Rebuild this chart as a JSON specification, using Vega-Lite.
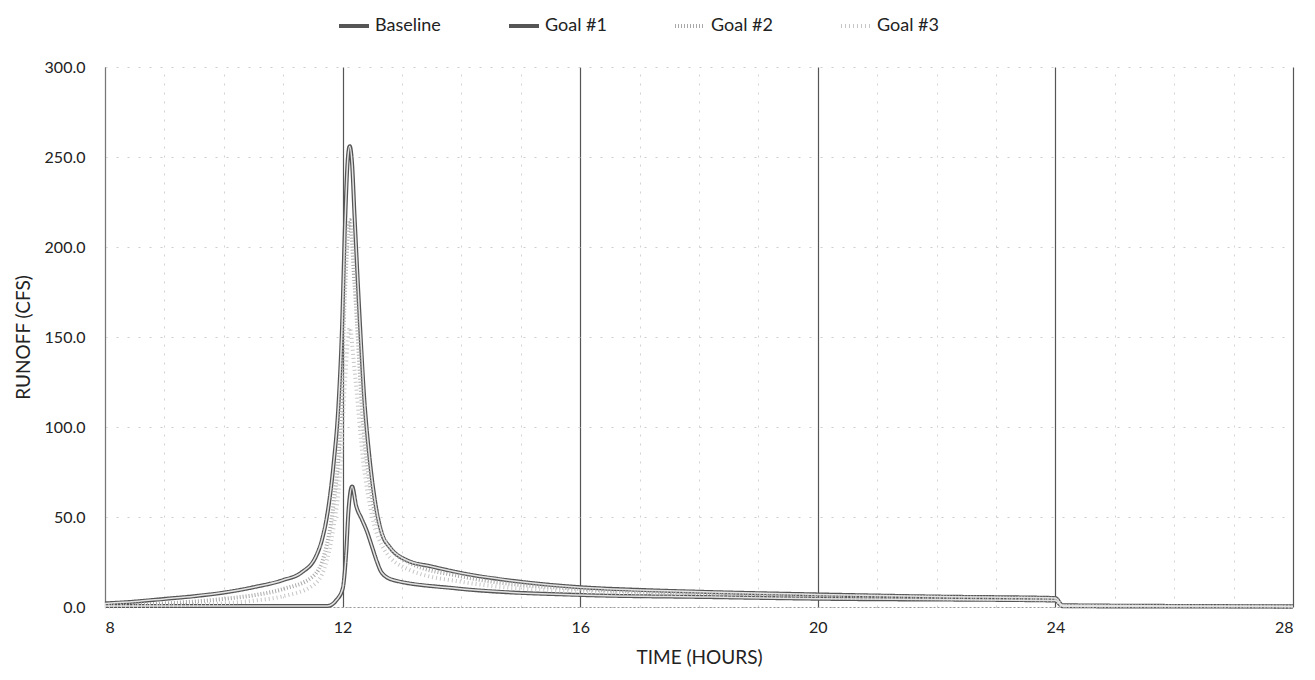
{
  "$schema": "https://vega.github.io/schema/vega-lite/v6.json",
  "width": 1188,
  "height": 540,
  "autosize": {"type": "none"},
  "padding": {"left": 105, "top": 67, "right": 22, "bottom": 73},
  "background": "white",
  "config": {
    "font": "Lato",
    "view": {"stroke": null},
    "axis": {"labelFont": "Lato", "titleFont": "Lato", "labelColor": "#222", "titleColor": "#222", "titleFontWeight": "normal"}
  },
  "datasets": {
    "runoff": [
      {"s": "Baseline", "t": 8.0, "q": 2},
      {"s": "Baseline", "t": 8.5, "q": 3},
      {"s": "Baseline", "t": 9.0, "q": 4.5},
      {"s": "Baseline", "t": 9.5, "q": 6},
      {"s": "Baseline", "t": 10.0, "q": 8},
      {"s": "Baseline", "t": 10.5, "q": 11},
      {"s": "Baseline", "t": 11.0, "q": 15},
      {"s": "Baseline", "t": 11.3, "q": 19},
      {"s": "Baseline", "t": 11.55, "q": 28},
      {"s": "Baseline", "t": 11.65, "q": 37},
      {"s": "Baseline", "t": 11.75, "q": 53},
      {"s": "Baseline", "t": 11.85, "q": 80},
      {"s": "Baseline", "t": 11.93, "q": 112},
      {"s": "Baseline", "t": 11.99, "q": 155},
      {"s": "Baseline", "t": 12.04, "q": 212},
      {"s": "Baseline", "t": 12.09, "q": 250},
      {"s": "Baseline", "t": 12.12, "q": 256},
      {"s": "Baseline", "t": 12.16, "q": 246},
      {"s": "Baseline", "t": 12.2, "q": 218},
      {"s": "Baseline", "t": 12.28, "q": 165},
      {"s": "Baseline", "t": 12.36, "q": 118},
      {"s": "Baseline", "t": 12.45, "q": 84},
      {"s": "Baseline", "t": 12.55, "q": 58},
      {"s": "Baseline", "t": 12.66, "q": 41},
      {"s": "Baseline", "t": 12.8, "q": 33},
      {"s": "Baseline", "t": 13.08, "q": 26},
      {"s": "Baseline", "t": 13.5, "q": 22.5},
      {"s": "Baseline", "t": 14.14, "q": 18},
      {"s": "Baseline", "t": 15.0, "q": 14},
      {"s": "Baseline", "t": 16.0, "q": 11},
      {"s": "Baseline", "t": 17.0, "q": 9.5},
      {"s": "Baseline", "t": 18.2, "q": 8.3},
      {"s": "Baseline", "t": 20.0, "q": 7},
      {"s": "Baseline", "t": 22.0, "q": 5.8},
      {"s": "Baseline", "t": 24.0, "q": 5},
      {"s": "Baseline", "t": 24.12, "q": 1},
      {"s": "Baseline", "t": 26.0, "q": 0.6},
      {"s": "Baseline", "t": 28.0, "q": 0.4},

      {"s": "Goal #1", "t": 8.0, "q": 0.5},
      {"s": "Goal #1", "t": 10.0, "q": 0.5},
      {"s": "Goal #1", "t": 11.75, "q": 0.6},
      {"s": "Goal #1", "t": 11.9, "q": 4},
      {"s": "Goal #1", "t": 12.0, "q": 10},
      {"s": "Goal #1", "t": 12.06, "q": 30},
      {"s": "Goal #1", "t": 12.1, "q": 54},
      {"s": "Goal #1", "t": 12.16, "q": 67},
      {"s": "Goal #1", "t": 12.23, "q": 56},
      {"s": "Goal #1", "t": 12.32, "q": 49},
      {"s": "Goal #1", "t": 12.41, "q": 42},
      {"s": "Goal #1", "t": 12.5, "q": 33},
      {"s": "Goal #1", "t": 12.58, "q": 25},
      {"s": "Goal #1", "t": 12.66, "q": 19},
      {"s": "Goal #1", "t": 12.85, "q": 15},
      {"s": "Goal #1", "t": 13.86, "q": 10.5},
      {"s": "Goal #1", "t": 16.0, "q": 6.7},
      {"s": "Goal #1", "t": 18.2, "q": 5.5},
      {"s": "Goal #1", "t": 20.0, "q": 4.6},
      {"s": "Goal #1", "t": 24.0, "q": 3.6},
      {"s": "Goal #1", "t": 24.12, "q": 0.4},
      {"s": "Goal #1", "t": 28.0, "q": 0.2},

      {"s": "Goal #2", "t": 8.0, "q": 1},
      {"s": "Goal #2", "t": 9.0, "q": 2},
      {"s": "Goal #2", "t": 10.0, "q": 4.5},
      {"s": "Goal #2", "t": 10.5, "q": 6.5},
      {"s": "Goal #2", "t": 11.0, "q": 10},
      {"s": "Goal #2", "t": 11.5, "q": 17},
      {"s": "Goal #2", "t": 11.7, "q": 30},
      {"s": "Goal #2", "t": 11.85, "q": 58},
      {"s": "Goal #2", "t": 11.96, "q": 100},
      {"s": "Goal #2", "t": 12.04, "q": 175},
      {"s": "Goal #2", "t": 12.12, "q": 215},
      {"s": "Goal #2", "t": 12.2, "q": 180},
      {"s": "Goal #2", "t": 12.35, "q": 100},
      {"s": "Goal #2", "t": 12.5, "q": 60},
      {"s": "Goal #2", "t": 12.7, "q": 38},
      {"s": "Goal #2", "t": 13.1, "q": 25},
      {"s": "Goal #2", "t": 14.0, "q": 17},
      {"s": "Goal #2", "t": 16.0, "q": 10},
      {"s": "Goal #2", "t": 18.0, "q": 7.8},
      {"s": "Goal #2", "t": 20.0, "q": 6.3},
      {"s": "Goal #2", "t": 24.0, "q": 4.6},
      {"s": "Goal #2", "t": 24.12, "q": 0.5},
      {"s": "Goal #2", "t": 28.0, "q": 0.3},

      {"s": "Goal #3", "t": 8.0, "q": 0.3},
      {"s": "Goal #3", "t": 9.0, "q": 0.8},
      {"s": "Goal #3", "t": 10.0, "q": 2},
      {"s": "Goal #3", "t": 10.5, "q": 3.5},
      {"s": "Goal #3", "t": 11.0, "q": 6},
      {"s": "Goal #3", "t": 11.5, "q": 12},
      {"s": "Goal #3", "t": 11.7, "q": 22},
      {"s": "Goal #3", "t": 11.85, "q": 45},
      {"s": "Goal #3", "t": 11.96, "q": 75},
      {"s": "Goal #3", "t": 12.04, "q": 125},
      {"s": "Goal #3", "t": 12.12, "q": 155},
      {"s": "Goal #3", "t": 12.2, "q": 132},
      {"s": "Goal #3", "t": 12.35, "q": 80},
      {"s": "Goal #3", "t": 12.5, "q": 50},
      {"s": "Goal #3", "t": 12.7, "q": 32},
      {"s": "Goal #3", "t": 13.1, "q": 21},
      {"s": "Goal #3", "t": 14.0, "q": 14},
      {"s": "Goal #3", "t": 16.0, "q": 8.5},
      {"s": "Goal #3", "t": 18.0, "q": 7},
      {"s": "Goal #3", "t": 20.0, "q": 5.5},
      {"s": "Goal #3", "t": 24.0, "q": 4},
      {"s": "Goal #3", "t": 24.12, "q": 0.4},
      {"s": "Goal #3", "t": 28.0, "q": 0.2}
    ]
  },
  "data": {"name": "runoff"},
  "layer": [
    {
      "mark": {"type": "line", "interpolate": "monotone"},
      "encoding": {
        "x": {
          "field": "t", "type": "quantitative",
          "scale": {"domain": [8, 28], "nice": false, "zero": false},
          "axis": {
            "orient": "bottom",
            "values": [8, 12, 16, 20, 24, 28],
            "title": "TIME (HOURS)",
            "titleFontSize": 19,
            "titlePadding": 13,
            "labelFontSize": 16,
            "labelPadding": 12,
            "ticks": false,
            "tickSize": 0,
            "domainColor": "#999",
            "domainDash": [2, 2],
            "grid": true,
            "gridColor": "#555",
            "gridWidth": 1.2
          }
        },
        "y": {
          "field": "q", "type": "quantitative",
          "scale": {"domain": [0, 300], "nice": false},
          "axis": {
            "values": [0, 50, 100, 150, 200, 250, 300],
            "format": ".1f",
            "title": "RUNOFF (CFS)",
            "titleFontSize": 19,
            "titlePadding": 11,
            "labelFontSize": 16,
            "labelPadding": 20,
            "ticks": false,
            "tickSize": 0,
            "domainColor": "#777",
            "grid": true,
            "gridColor": "#cdcdcd",
            "gridDash": [2, 9]
          }
        },
        "color": {
          "field": "s", "type": "nominal",
          "scale": {"domain": ["Baseline", "Goal #1", "Goal #2", "Goal #3"], "range": ["#555555", "#555555", "#a8a8a8", "#c6c6c6"]},
          "legend": {
            "title": null,
            "orient": "none",
            "direction": "horizontal",
            "legendX": 232,
            "legendY": -58,
            "labelFontSize": 18,
            "labelColor": "#222",
            "symbolType": "stroke",
            "symbolSize": 900,
            "columnPadding": 60,
            "labelOffset": 4
          }
        },
        "strokeDash": {
          "field": "s", "type": "nominal",
          "scale": {"domain": ["Baseline", "Goal #1", "Goal #2", "Goal #3"], "range": [[1, 0], [1, 0], [1, 2], [1, 3]]},
          "legend": null
        },
        "strokeWidth": {
          "field": "s", "type": "nominal",
          "scale": {"domain": ["Baseline", "Goal #1", "Goal #2", "Goal #3"], "range": [4, 4, 1.2, 1.2]},
          "legend": null
        }
      }
    },
    {
      "transform": [{"filter": {"field": "s", "oneOf": ["Baseline", "Goal #1"]}}],
      "mark": {"type": "line", "interpolate": "monotone", "color": "#e4e4e4", "strokeWidth": 1.5},
      "encoding": {
        "x": {
          "field": "t", "type": "quantitative",
          "axis": {
            "orient": "top",
            "values": [9, 10, 11, 13, 14, 15, 17, 18, 19, 21, 22, 23, 25, 26, 27],
            "labels": false, "ticks": false, "domain": false, "title": null,
            "grid": true, "gridColor": "#d2d2d2", "gridDash": [2, 7]
          }
        },
        "y": {"field": "q", "type": "quantitative"},
        "detail": {"field": "s", "type": "nominal"}
      }
    }
  ]
}
